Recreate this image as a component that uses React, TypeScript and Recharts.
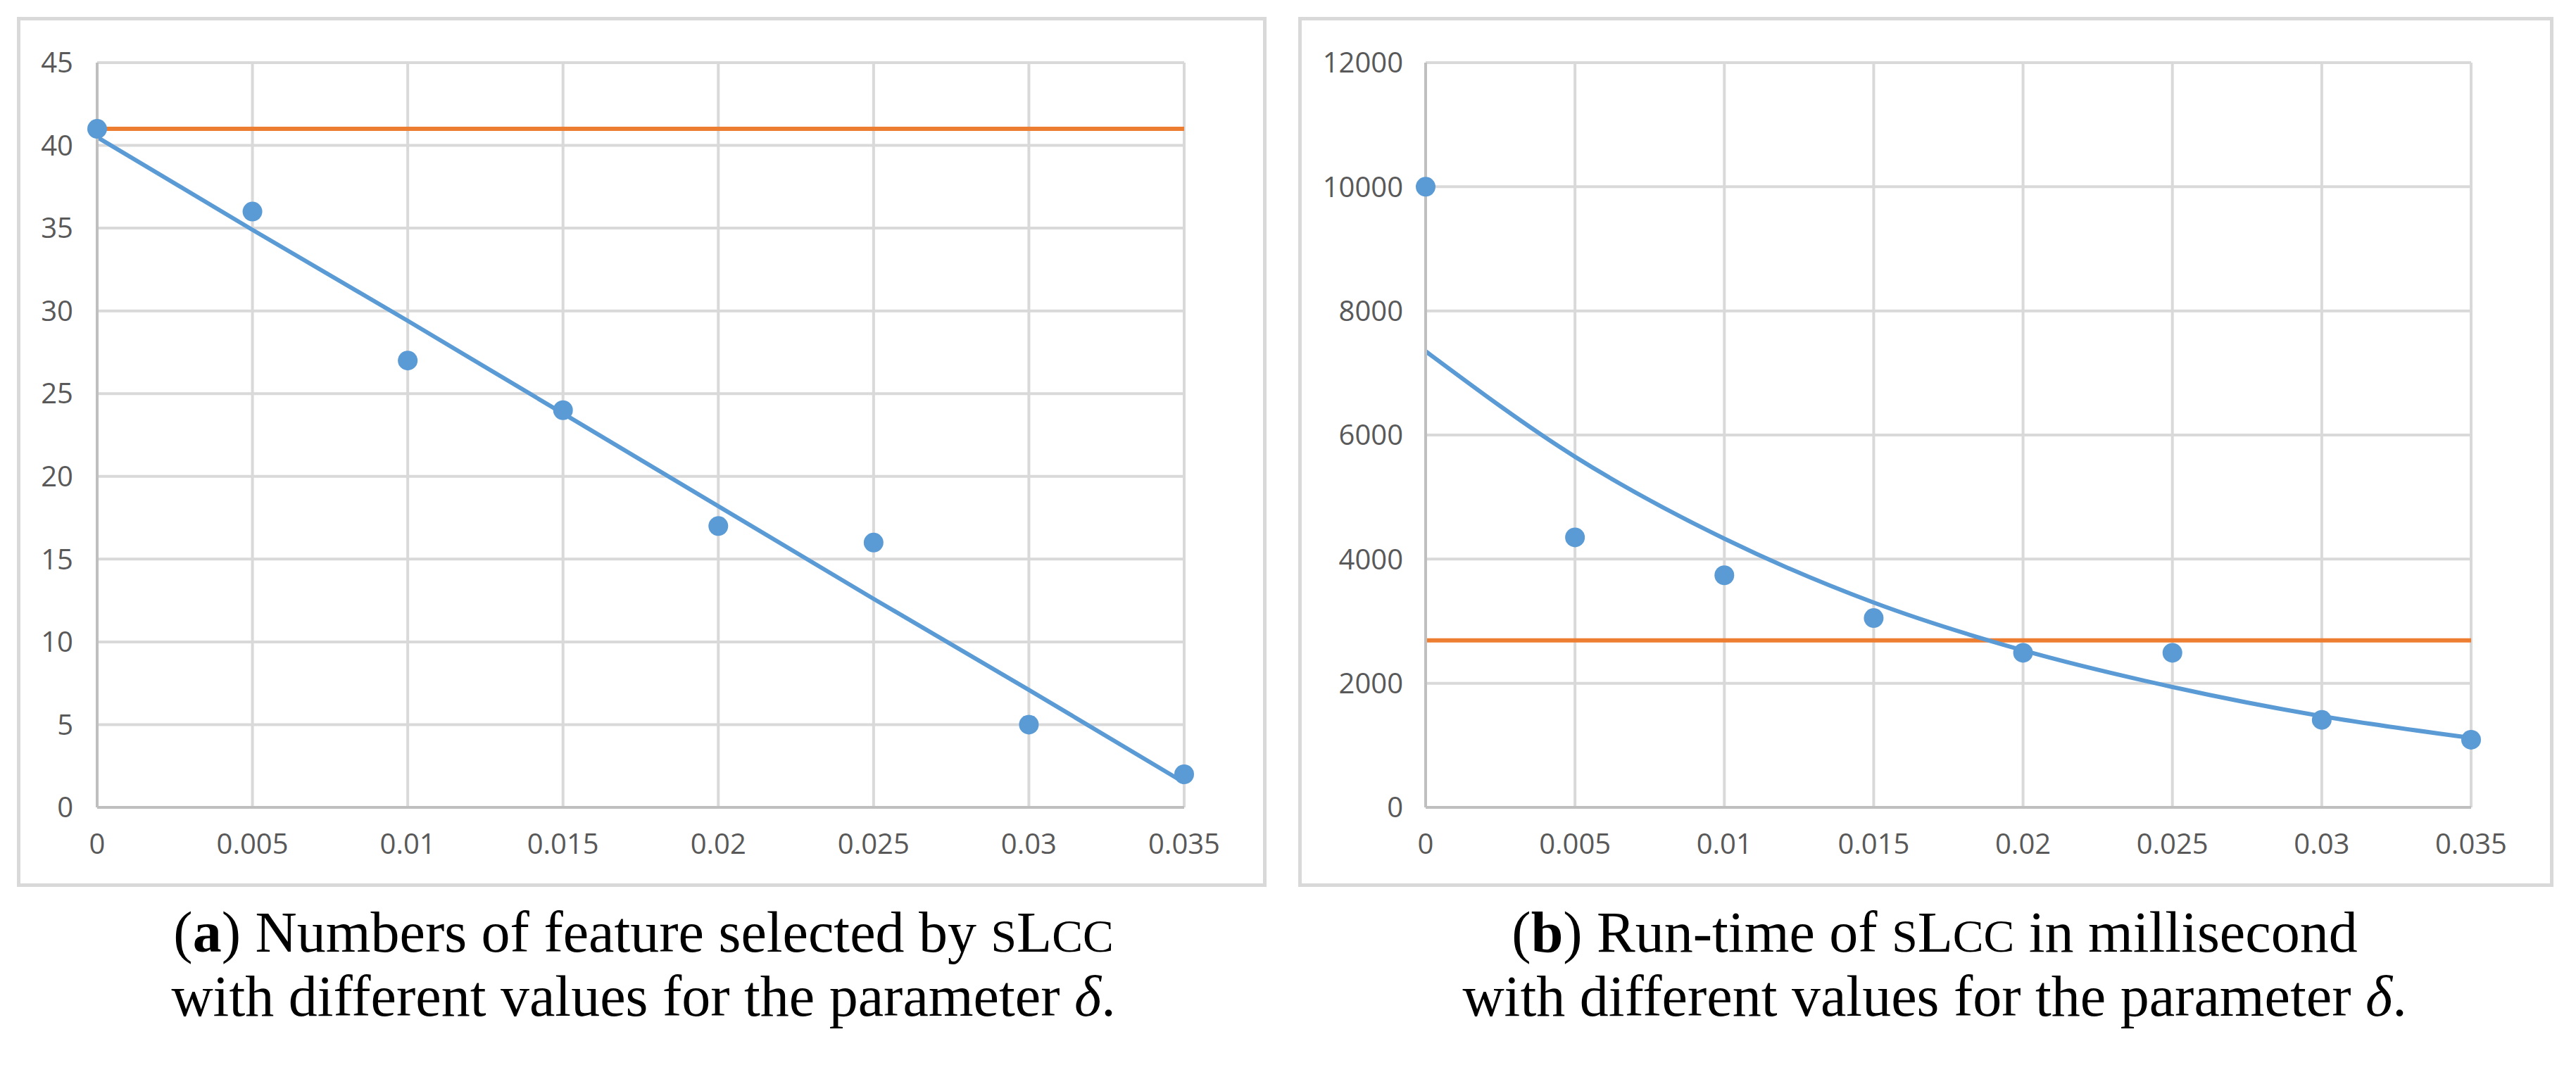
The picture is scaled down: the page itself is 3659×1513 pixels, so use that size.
import React from 'react';
import { ComposedChart, Line, Scatter, XAxis, YAxis, CartesianGrid } from 'recharts';

const deltaValues = [0, 0.005, 0.01, 0.015, 0.02, 0.025, 0.03, 0.035];
const featureCounts = [41, 36, 27, 24, 17, 16, 5, 2];
const featureTrend = [40.5, 34.9, 29.4, 23.8, 18.2, 12.6, 7.1, 1.5];
const featureBaseline = [41, 41, 41, 41, 41, 41, 41, 41];
const runTimes = [10000, 4350, 3740, 3050, 2490, 2490, 1410, 1090];
const runTimeTrend = [7350, 5650, 4330, 3300, 2530, 1940, 1470, 1120];
const runTimeBaseline = [2690, 2690, 2690, 2690, 2690, 2690, 2690, 2690];
const xTicks = [0, 0.005, 0.01, 0.015, 0.02, 0.025, 0.03, 0.035];
const featureTicks = [0, 5, 10, 15, 20, 25, 30, 35, 40, 45];
const runTimeTicks = [0, 2000, 4000, 6000, 8000, 10000, 12000];

const BLUE = '#5B9BD5';
const ORANGE = '#ED7D31';
const GRID = '#D9D9D9';
const AXIS = '#BFBFBF';
const TICK = { fill: '#595959', fontSize: 40, fontFamily: 'Open Sans' };

const buildRows = (pts: number[], trend: number[], base: number[]) =>
  deltaValues.map((x, i) => ({ x, pts: pts[i], trend: trend[i], base: base[i] }));

const featureRows = buildRows(featureCounts, featureTrend, featureBaseline);
const runTimeRows = buildRows(runTimes, runTimeTrend, runTimeBaseline);

const Dot = (props: any) => <circle cx={props.cx} cy={props.cy} r={14} fill={BLUE} />;

type PanelProps = {
  rows: any[];
  width: number;
  height: number;
  margin: any;
  yWidth: number;
  yTickMargin: number;
  yDomain: number[];
  yTicks: number[];
  curve: 'linear' | 'monotone';
};

const Panel = ({ rows, width, height, margin, yWidth, yTickMargin, yDomain, yTicks, curve }: PanelProps) => (
  <ComposedChart width={width} height={height} data={rows} margin={margin}>
    <CartesianGrid stroke={GRID} strokeWidth={4} />
    <XAxis
      type="number"
      dataKey="x"
      domain={[0, 0.035]}
      ticks={xTicks}
      interval={0}
      height={80}
      tickSize={0}
      tickMargin={38}
      tickLine={false}
      axisLine={{ stroke: AXIS, strokeWidth: 4 }}
      tick={TICK}
    />
    <YAxis
      type="number"
      domain={yDomain}
      ticks={yTicks}
      interval={0}
      width={yWidth}
      tickSize={0}
      tickMargin={yTickMargin}
      tickLine={false}
      axisLine={{ stroke: AXIS, strokeWidth: 4 }}
      tick={TICK}
    />
    <Line dataKey="base" stroke={ORANGE} strokeWidth={6} dot={false} isAnimationActive={false} type="linear" />
    <Line dataKey="trend" stroke={BLUE} strokeWidth={6} dot={false} isAnimationActive={false} type={curve} />
    <Scatter dataKey="pts" fill={BLUE} shape={Dot} isAnimationActive={false} />
  </ComposedChart>
);

const SERIF = 'Liberation Serif';
const FS = 82;

const Caption = ({ cx, label, line1 }: { cx: number; label: string; line1: React.ReactNode }) => (
  <>
    <text x={cx} y={1352} textAnchor="middle" fontSize={FS} fontFamily={SERIF} fill="#000">
      (<tspan fontWeight="bold">{label}</tspan>) {line1}
    </text>
    <text x={cx} y={1443} textAnchor="middle" fontSize={FS} fontFamily={SERIF} fill="#000">
      with different values for the parameter <tspan fontStyle="italic">δ</tspan>.
    </text>
  </>
);

const SLCC = () => (
  <>
    <tspan fontSize={FS * 0.8}>S</tspan>L<tspan fontSize={FS * 0.8}>CC</tspan>
  </>
);

export default function App() {
  return (
    <div style={{ position: 'absolute', left: 0, top: 0, width: 3659, height: 1513, background: '#fff', overflow: 'hidden' }}>
      <div style={{ position: 'absolute', left: 24, top: 24, width: 1775, height: 1236, border: `5px solid ${GRID}`, boxSizing: 'border-box' }} />
      <div style={{ position: 'absolute', left: 1844, top: 24, width: 1783, height: 1236, border: `5px solid ${GRID}`, boxSizing: 'border-box' }} />
      <div style={{ position: 'absolute', left: 0, top: 0 }}>
        <Panel
          rows={featureRows}
          width={1800}
          height={1260}
          margin={{ top: 89, right: 118, bottom: 33, left: 38 }}
          yWidth={100}
          yTickMargin={34}
          yDomain={[0, 45]}
          yTicks={featureTicks}
          curve="linear"
        />
      </div>
      <div style={{ position: 'absolute', left: 1844, top: 0 }}>
        <Panel
          rows={runTimeRows}
          width={1783}
          height={1260}
          margin={{ top: 89, right: 117, bottom: 33, left: 41 }}
          yWidth={140}
          yTickMargin={32}
          yDomain={[0, 12000]}
          yTicks={runTimeTicks}
          curve="monotone"
        />
      </div>
      <svg width={3659} height={1513} style={{ position: 'absolute', left: 0, top: 0, pointerEvents: 'none' }}>
        <Caption cx={914} label="a" line1={<>Numbers of feature selected by <SLCC /></>} />
        <Caption cx={2748} label="b" line1={<>Run-time of <SLCC /> in millisecond</>} />
      </svg>
    </div>
  );
}
